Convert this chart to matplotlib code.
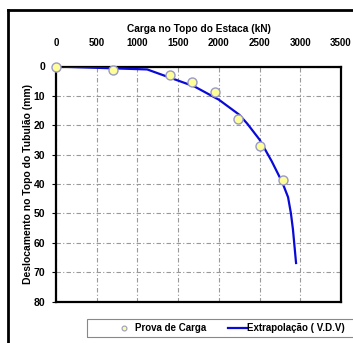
import matplotlib
matplotlib.use("Agg")
import matplotlib.pyplot as plt
from matplotlib.lines import Line2D
from matplotlib.patches import Rectangle

plt.rcParams['font.family'] = ['Liberation Sans', 'DejaVu Sans']
plt.rcParams['font.weight'] = 'bold'

# Data
carga_prova = [0, 700, 1400, 1675, 1950, 2235, 2510, 2790]
desloc_prova = [0, 1.2, 3.0, 5.3, 8.8, 17.9, 27.1, 38.8]

carga_vdv = [0, 1120, 1400, 1700, 2000, 2250, 2350, 2500, 2650, 2780, 2850, 2885, 2910, 2930, 2948]
desloc_vdv = [0, 1.0, 3.8, 6.8, 11.3, 16.4, 19.5, 24.9, 32.3, 39.5, 44.5, 50.0, 55.5, 61.5, 66.9]

xticks = [0, 500, 1000, 1500, 2000, 2500, 3000, 3500]
yticks = [0, 10, 20, 30, 40, 50, 60, 70, 80]

W, H = 353, 343
fig = plt.figure(figsize=(W / 100, H / 100), dpi=100)
ax = fig.add_axes([56 / W, 1 - 301.5 / H, 285 / W, 235 / H])

ax.plot(carga_vdv, desloc_vdv, color='#0a0ad8', lw=1.6, zorder=3)
ax.plot(carga_prova, desloc_prova, 'o', ms=6.5, mfc='#ffff99', mec='#9a9ac8', mew=1.0,
        zorder=4, clip_on=False)

ax.set_xlim(0, 3500)
ax.set_ylim(80, 0)
ax.set_xticks(xticks)
ax.set_yticks(yticks)
ax.xaxis.tick_top()
ax.xaxis.set_label_position('top')
ax.tick_params(axis='x', length=0, pad=13, labelsize=7)
ax.tick_params(axis='y', length=3, pad=5, labelsize=7.5)
ax.grid(True, color='#999999', lw=0.8, linestyle=(0, (4, 2, 1, 2)))
for s in ax.spines.values():
    s.set_linewidth(1.6)
ax.set_xlabel('Carga no Topo do Estaca (kN)', fontsize=7.3, fontweight='bold', labelpad=5)
ax.set_ylabel('Deslocamento no Topo do Tubulão (mm)', fontsize=7.5, fontweight='bold', labelpad=0)

# outer frame (cut off at right and bottom)
fig.add_artist(Line2D([8 / W, 8 / W], [-0.1, 1 - 10 / H], transform=fig.transFigure,
                      color='black', lw=2))
fig.add_artist(Line2D([8 / W, 1.2], [1 - 10 / H, 1 - 10 / H], transform=fig.transFigure,
                      color='black', lw=2))

# legend box
fig.add_artist(Rectangle((87 / W, 1 - 337 / H), 1.0, 18 / H, transform=fig.transFigure,
                         fill=False, lw=0.8, ec='#888888'))
ly = 1 - 328 / H
fig.add_artist(Line2D([124 / W], [ly], transform=fig.transFigure, marker='o', ms=3.5,
                      mfc='#ffff99', mec='#9a9ac8', mew=0.8, ls='none'))
fig.text(135 / W, ly, 'Prova de Carga', fontsize=7, fontweight='bold', va='center', ha='left')
fig.add_artist(Line2D([228 / W, 247 / W], [ly, ly], transform=fig.transFigure,
                      color='#0a0ad8', lw=1.6))
fig.text(247 / W, ly, 'Extrapolação ( V.D.V)', fontsize=7, fontweight='bold', va='center', ha='left')

fig.savefig('out.png', dpi=100)
